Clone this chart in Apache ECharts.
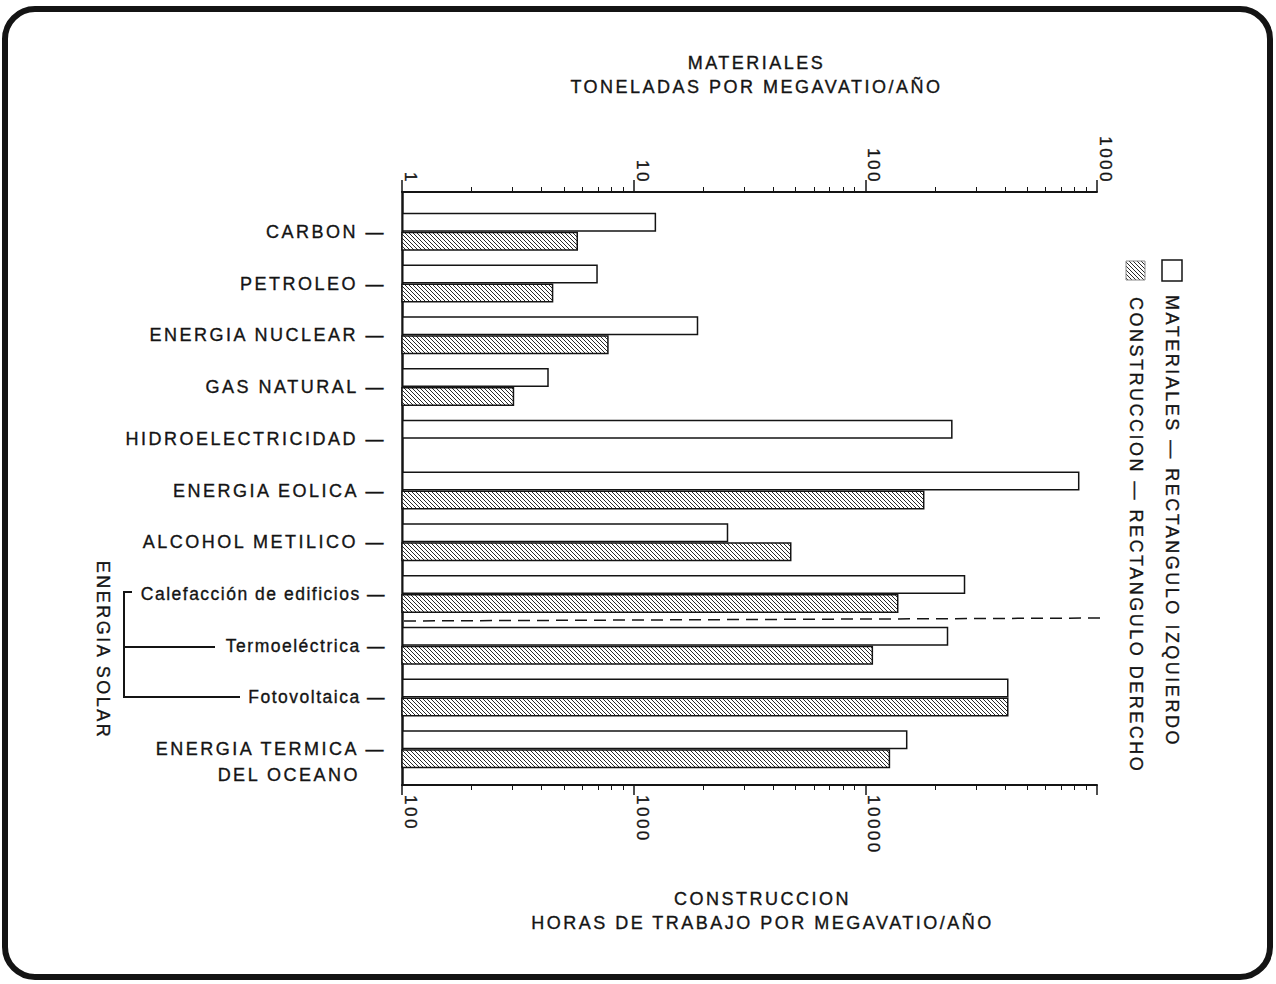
<!DOCTYPE html>
<html>
<head>
<meta charset="utf-8">
<script src="https://cdn.jsdelivr.net/npm/echarts@6/dist/echarts.min.js"></script>
<style>
html, body { margin: 0; background: #fff; }
#main { width: 1276px; height: 984px; }
/* el original tiene las letras muy espaciadas y algo gruesas */
#main svg text { letter-spacing: 2.5px; stroke: #141414; stroke-width: 0.35px; }
#main svg text[style*="17.5px"] { letter-spacing: 1.5px; }
</style>
</head>
<body>
<div id="main"></div>
<script>
// categorias (de arriba a abajo)
var categories = ['CARBON', 'PETROLEO', 'ENERGIA NUCLEAR', 'GAS NATURAL', 'HIDROELECTRICIDAD',
    'ENERGIA EOLICA', 'ALCOHOL METILICO', 'Calefacción de edificios', 'Termoeléctrica',
    'Fotovoltaica', 'ENERGIA TERMICA\nDEL OCEANO'];
var solar = ['Calefacción de edificios', 'Termoeléctrica', 'Fotovoltaica'];
// toneladas por megavatio/año
var materiales = [12.5, 7, 19, 4.3, 238, 840, 25.6, 270, 228, 415, 152];
// horas de trabajo por megavatio/año
var construccion = [575, 450, 780, 305, '-', 18000, 4800, 13900, 10800, 41500, 12800];
var topTicks = [1, 10, 100, 1000];
var bottomTicks = [100, 1000, 10000, 100000];
var bottomLabels = [100, 1000, 10000];
var minorSteps = [2, 3, 4, 5, 6, 7, 8, 9];

function minorTicks(majors) {
    var out = [];
    majors.forEach(function (m) {
        minorSteps.forEach(function (s) { out.push(m * s); });
    });
    return out;
}

// rayado para la construccion
var hatch = document.createElement('canvas');
hatch.width = 4; hatch.height = 4;
var g = hatch.getContext('2d');
g.fillStyle = '#fff';
g.fillRect(0, 0, 4, 4);
g.strokeStyle = '#2a2a2a';
g.lineWidth = 1;
g.beginPath();
g.moveTo(-1, -1); g.lineTo(5, 5);
g.moveTo(-1, 3); g.lineTo(1, 5);
g.moveTo(3, -1); g.lineTo(5, 1);
g.stroke();
var hatchFill = { image: hatch.toDataURL(), imageWidth: 4, imageHeight: 4, repeat: 'repeat' };

var ink = '#141414';
var font = '"Liberation Sans", Arial, sans-serif';

var myChart = echarts.init(document.getElementById('main'), null, { renderer: 'svg' });

function logLabel(v) { return String(Math.round(v)); }

myChart.setOption({
    backgroundColor: '#fff',
    animation: false,
    textStyle: { fontFamily: font, color: ink },
    grid: [
        { left: 402, right: 179, top: 192, bottom: 199 },
        { left: 402, right: 179, top: 206, bottom: 209 }
    ],
    xAxis: [
        {
            gridIndex: 0, type: 'log', position: 'top', min: 1, max: 1000,
            name: 'MATERIALES\nTONELADAS POR MEGAVATIO/AÑO',
            nameLocation: 'middle', nameGap: 93,
            nameTextStyle: { fontSize: 18, lineHeight: 24, color: ink, fontFamily: font, padding: [0, 0, 0, 14] },
            axisLine: { show: true, onZero: false, lineStyle: { color: ink, width: 2 } },
            axisTick: { show: true, length: 12, customValues: topTicks, lineStyle: { color: ink, width: 1.5 } },
            // en el eje superior echarts invierte el giro
            axisLabel: { customValues: topTicks, rotate: 90, verticalAlign: 'bottom', margin: 8,
                fontSize: 17, color: ink, formatter: logLabel },
            splitLine: { show: false }
        },
        {
            gridIndex: 0, type: 'log', position: 'bottom', min: 100, max: 100000,
            name: 'CONSTRUCCION\nHORAS DE TRABAJO POR MEGAVATIO/AÑO',
            nameLocation: 'middle', nameGap: 102,
            nameTextStyle: { fontSize: 18, lineHeight: 24, color: ink, fontFamily: font, padding: [0, 0, 0, 26] },
            axisLine: { show: true, onZero: false, lineStyle: { color: ink, width: 2 } },
            axisTick: { show: true, length: 10, customValues: bottomTicks, lineStyle: { color: ink, width: 1.5 } },
            axisLabel: { customValues: bottomLabels, rotate: -90, verticalAlign: 'bottom', margin: 10,
                fontSize: 17, color: ink, formatter: logLabel },
            splitLine: { show: false }
        },
        {
            gridIndex: 1, type: 'log', position: 'top', offset: 14, min: 1, max: 1000,
            axisLine: { show: false, onZero: false },
            axisTick: { show: true, length: 5, customValues: minorTicks([1, 10, 100]), lineStyle: { color: ink, width: 1 } },
            axisLabel: { show: false },
            splitLine: { show: false }
        },
        {
            gridIndex: 1, type: 'log', position: 'bottom', offset: 10, min: 100, max: 100000,
            axisLine: { show: false, onZero: false },
            axisTick: { show: true, length: 5, customValues: minorTicks([100, 1000, 10000]), lineStyle: { color: ink, width: 1 } },
            axisLabel: { show: false },
            splitLine: { show: false }
        }
    ],
    yAxis: [
        {
            gridIndex: 0, type: 'value', min: 0, max: 1,
            axisLine: { show: true, onZero: false, lineStyle: { color: ink, width: 2.5 } },
            axisTick: { show: false }, axisLabel: { show: false }, splitLine: { show: false }
        },
        {
            gridIndex: 1, type: 'category', inverse: true, data: categories,
            axisLine: { show: false }, axisTick: { show: false }, splitLine: { show: false },
            axisLabel: {
                margin: 16,
                formatter: function (v) {
                    if (solar.indexOf(v) >= 0) return '{s|' + v + ' —}';
                    if (v.indexOf('\n') >= 0) {
                        var p = v.split('\n');
                        return '{e| }\n{a|' + p[0] + ' —}\n{b|' + p[1] + '}';
                    }
                    return '{a|' + v + ' —}';
                },
                rich: {
                    a: { fontSize: 18, lineHeight: 26, color: ink, fontFamily: font },
                    b: { fontSize: 18, lineHeight: 26, color: ink, fontFamily: font, padding: [0, 26, 0, 0] },
                    e: { fontSize: 18, lineHeight: 26 },
                    s: { fontSize: 17.5, lineHeight: 24, color: ink, fontFamily: font }
                }
            }
        }
    ],
    series: [
        {
            name: 'MATERIALES', type: 'bar', xAxisIndex: 2, yAxisIndex: 1,
            data: materiales, barWidth: 19, barGap: '0%',
            itemStyle: { color: '#fff', borderColor: ink, borderWidth: 1.5 }
        },
        {
            name: 'CONSTRUCCION', type: 'bar', xAxisIndex: 3, yAxisIndex: 1,
            data: construccion, barWidth: 19, barGap: '0%', clip: true,
            itemStyle: { color: hatchFill, borderColor: ink, borderWidth: 1.5 }
        }
    ],
    graphic: [
        // marco redondeado
        { type: 'rect', shape: { x: 5, y: 9, width: 1265, height: 968, r: 30 },
          style: { fill: 'none', stroke: ink, lineWidth: 6 } },
        // separacion de calefaccion
        { type: 'line', shape: { x1: 404, y1: 621, x2: 1102, y2: 618 },
          style: { stroke: ink, lineWidth: 1.5, lineDash: [12, 7] } },
        // corchete energia solar
        { type: 'polyline', shape: { points: [[132, 592], [124, 592], [124, 697], [240, 697]] },
          style: { stroke: ink, lineWidth: 2, fill: null } },
        { type: 'line', shape: { x1: 124, y1: 647, x2: 215, y2: 647 },
          style: { stroke: ink, lineWidth: 2 } },
        { type: 'text', x: 103, y: 650, rotation: -Math.PI / 2,
          style: { text: 'ENERGIA SOLAR', font: '18px ' + font, fill: ink, align: 'center', verticalAlign: 'middle' } },
        // leyenda
        { type: 'rect', shape: { x: 1162, y: 260, width: 20, height: 21 },
          style: { fill: '#fff', stroke: ink, lineWidth: 1.5 } },
        { type: 'rect', shape: { x: 1126, y: 261, width: 19, height: 19 },
          style: { fill: hatchFill, stroke: '#888', lineWidth: 1 } },
        { type: 'text', x: 1172, y: 295, rotation: -Math.PI / 2,
          style: { text: 'MATERIALES — RECTANGULO IZQUIERDO', font: '18px ' + font, fill: ink, align: 'left', verticalAlign: 'middle' } },
        { type: 'text', x: 1136, y: 297, rotation: -Math.PI / 2,
          style: { text: 'CONSTRUCCION — RECTANGULO DERECHO', font: '18px ' + font, fill: ink, align: 'left', verticalAlign: 'middle' } }
    ]
});

window.addEventListener('resize', function () {
    myChart.resize();
});
</script>
</body>
</html>
